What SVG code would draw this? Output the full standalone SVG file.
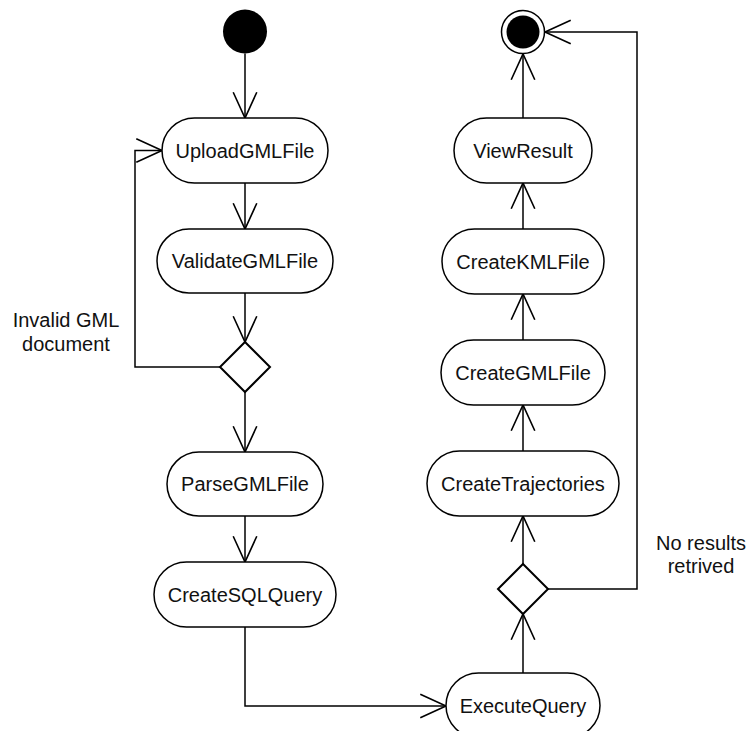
<svg xmlns="http://www.w3.org/2000/svg" width="748" height="731" viewBox="0 0 748 731">
  <style>
    .act { fill: #ffffff; stroke: #000000; stroke-width: 1.5; }
    .dec { fill: #ffffff; stroke: #000000; stroke-width: 2; }
    .lbl { font-family: "Liberation Sans", Arial, sans-serif; font-size: 20px; fill: #111111; text-anchor: middle; }
    .flow { fill: none; stroke: #000000; stroke-width: 1.5; }
  </style>
  <defs>
    <marker id="open" markerUnits="userSpaceOnUse" markerWidth="30" markerHeight="30" viewBox="-26 -13 28 26" refX="0" refY="0" orient="auto" overflow="visible">
      <path d="M-24,-11 L0,0 L-24,11" fill="none" stroke="#000000" stroke-width="1.5"/>
    </marker>
  </defs>

  <rect width="748" height="731" fill="#ffffff"/>

  <!-- control flow -->
  <g id="connectors" class="flow" marker-end="url(#open)">
    <path d="M245,53.5 V118"/>
    <path d="M245,183 V229"/>
    <path d="M245,293 V342"/>
    <path d="M220,367 H135 V150.5 H162"/>
    <path d="M245,392 V452"/>
    <path d="M245,516 V562"/>
    <path d="M245,627 V706 H446"/>
    <path d="M523,673 V614"/>
    <path d="M523,564 V516"/>
    <path d="M523,451 V405"/>
    <path d="M523,340 V294"/>
    <path d="M523,229 V183"/>
    <path d="M523,118 V54"/>
    <path d="M548,589 H637 V32 H545"/>
  </g>

  <!-- guard labels -->
  <g id="guard-invalid">
    <text class="lbl" x="66" y="327">Invalid GML</text>
    <text class="lbl" x="66" y="351">document</text>
  </g>
  <g id="guard-noresults">
    <text class="lbl" x="701" y="550">No results</text>
    <text class="lbl" x="701" y="573">retrived</text>
  </g>

  <!-- nodes -->
  <g id="start">
    <circle cx="245" cy="31.5" r="22" fill="#000000"/>
  </g>
  <g id="upload">
    <rect class="act" x="162" y="118" width="166" height="65" rx="32.5"/>
    <text class="lbl" x="245" y="157.5">UploadGMLFile</text>
  </g>
  <g id="validate">
    <rect class="act" x="157" y="229" width="176" height="64" rx="32"/>
    <text class="lbl" x="245" y="268">ValidateGMLFile</text>
  </g>
  <g id="decision-valid">
    <polygon class="dec" points="245,342 270,367 245,392 220,367"/>
  </g>
  <g id="parse">
    <rect class="act" x="167" y="452" width="156" height="64" rx="32"/>
    <text class="lbl" x="245" y="491">ParseGMLFile</text>
  </g>
  <g id="sqlquery">
    <rect class="act" x="154" y="562" width="182" height="65" rx="32.5"/>
    <text class="lbl" x="245" y="601.5">CreateSQLQuery</text>
  </g>
  <g id="execute">
    <rect class="act" x="446" y="673" width="154" height="65" rx="32.5"/>
    <text class="lbl" x="523" y="712.5">ExecuteQuery</text>
  </g>
  <g id="decision-results">
    <polygon class="dec" points="523,564 548,589 523,614 498,589"/>
  </g>
  <g id="trajectories">
    <rect class="act" x="427" y="451" width="192" height="65" rx="32.5"/>
    <text class="lbl" x="523" y="490.5">CreateTrajectories</text>
  </g>
  <g id="creategml">
    <rect class="act" x="441" y="340" width="164" height="65" rx="32.5"/>
    <text class="lbl" x="523" y="379.5">CreateGMLFile</text>
  </g>
  <g id="createkml">
    <rect class="act" x="442" y="229" width="162" height="65" rx="32.5"/>
    <text class="lbl" x="523" y="268.5">CreateKMLFile</text>
  </g>
  <g id="view">
    <rect class="act" x="454" y="118" width="138" height="65" rx="32.5"/>
    <text class="lbl" x="523" y="157.5">ViewResult</text>
  </g>
  <g id="final">
    <circle cx="523" cy="32" r="21.5" fill="#ffffff" stroke="#000000" stroke-width="1.5"/>
    <circle cx="523" cy="32" r="16.5" fill="#000000"/>
  </g>
</svg>
